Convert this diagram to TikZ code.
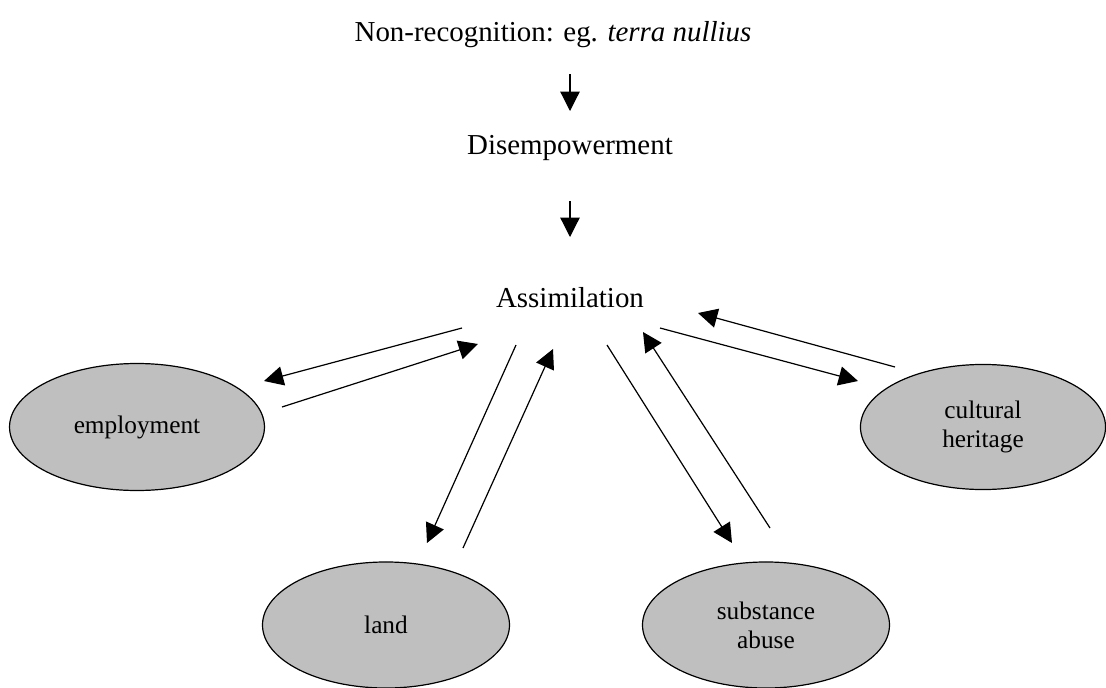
\documentclass[tikz,border=0pt]{standalone}
\usepackage{fontspec}
\setmainfont{Liberation Serif}
\usetikzlibrary{shapes,arrows.meta}

\begin{document}
\begin{tikzpicture}[x=0.415pt,y=-0.415pt,
  issue/.style={ellipse,draw,fill=black!25,line width=0.5pt,align=center,inner sep=0pt,font=\fontsize{10.5}{12}\selectfont},
  stage/.style={font=\fontsize{12}{14}\selectfont},
  link/.style={line width=0.5pt,-{Triangle[length=8pt,width=8pt]}}]
\useasboundingbox (0,0) rectangle (1106,688);
% stages
\node[stage] (nonrec) at (553,35) {Non-recognition: eg. \textit{terra nullius}};
\node[stage] (disemp) at (570,148) {Disempowerment};
\node[stage] (assim) at (570,298) {Assimilation};
% issues
\node[issue,minimum width=105.8pt,minimum height=52.7pt] (employ) at (137,427) {employment};
\node[issue,minimum width=102.5pt,minimum height=52.3pt] (land) at (386,625) {land};
\node[issue,minimum width=102.5pt,minimum height=52.3pt] (abuse) at (766,625) {substance\\abuse};
\node[issue,minimum width=101.7pt,minimum height=51.9pt] (heritage) at (983,427) {cultural\\heritage};
% arrow ends
\coordinate (a1) at (570,74);  \coordinate (a2) at (570,111);
\coordinate (b1) at (570,201); \coordinate (b2) at (570,237);
\coordinate (e1) at (462,328); \coordinate (e2) at (264,381);
\coordinate (e3) at (282,407); \coordinate (e4) at (478,344);
\coordinate (l1) at (516,345); \coordinate (l2) at (427,543);
\coordinate (l3) at (463,548); \coordinate (l4) at (553,349);
\coordinate (s1) at (607,345); \coordinate (s2) at (732,543);
\coordinate (s3) at (770,528); \coordinate (s4) at (643,332);
\coordinate (h1) at (895,367); \coordinate (h2) at (698,313);
\coordinate (h3) at (660,328); \coordinate (h4) at (858,381);
\draw[link] (a1) -- (a2);
\draw[link] (b1) -- (b2);
\draw[link] (e1) -- (e2);
\draw[link] (e3) -- (e4);
\draw[link] (l1) -- (l2);
\draw[link] (l3) -- (l4);
\draw[link] (s1) -- (s2);
\draw[link] (s3) -- (s4);
\draw[link] (h1) -- (h2);
\draw[link] (h3) -- (h4);
\end{tikzpicture}
\end{document}
